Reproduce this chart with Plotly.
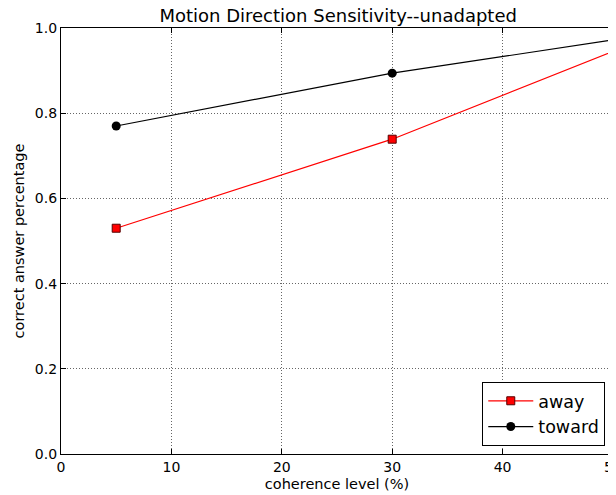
# line chart: motion direction sensitivity
import plotly.graph_objects as go

coherence = [5, 30, 50]
away = [0.53, 0.739, 0.945]
toward = [0.77, 0.894, 0.972]

fnt = "DejaVu Sans"

fig = go.Figure()
fig.add_trace(go.Scatter(x=coherence, y=away, name="away", mode="lines+markers",
                         line=dict(color="red", width=1.2),
                         marker=dict(symbol="square", size=8, color="red",
                                     line=dict(color="#550000", width=1))))
fig.add_trace(go.Scatter(x=coherence, y=toward, name="toward", mode="lines+markers",
                         line=dict(color="black", width=1.2),
                         marker=dict(symbol="circle", size=9, color="black")))

axis = dict(showline=True, linecolor="black", linewidth=1.2, mirror="ticks",
            ticks="inside", ticklen=5, tickcolor="black", automargin=False,
            showgrid=True, gridcolor="#666", griddash="1px,2px", gridwidth=1,
            zeroline=False, tickfont=dict(size=14, color="black", family=fnt))

fig.update_xaxes(axis, range=[0, 50], dtick=10,
                 title=dict(text="coherence level (%)", font=dict(size=14.5, color="black", family=fnt), standoff=4))
fig.update_yaxes(axis, range=[0, 1], dtick=0.2, tickformat=".1f",
                 title=dict(text="correct answer percentage", font=dict(size=14.5, color="black", family=fnt), standoff=6))

# page body has an 8px margin, so margins are shifted to compensate
fig.update_layout(
    width=616, height=495,
    margin=dict(l=53, r=11, t=20, b=49, autoexpand=False),
    paper_bgcolor="white", plot_bgcolor="white",
    title=dict(text="Motion Direction Sensitivity--unadapted", x=0.536, xanchor="center",
               y=0.985, yanchor="middle", font=dict(size=18, color="black", family=fnt)),
    legend=dict(x=0.986, xanchor="right", y=0.019, yanchor="bottom",
                bordercolor="black", borderwidth=1, bgcolor="white", itemwidth=45,
                font=dict(size=17.5, color="black", family=fnt)),
    font=dict(family=fnt),
)

fig.write_html("out.html")
